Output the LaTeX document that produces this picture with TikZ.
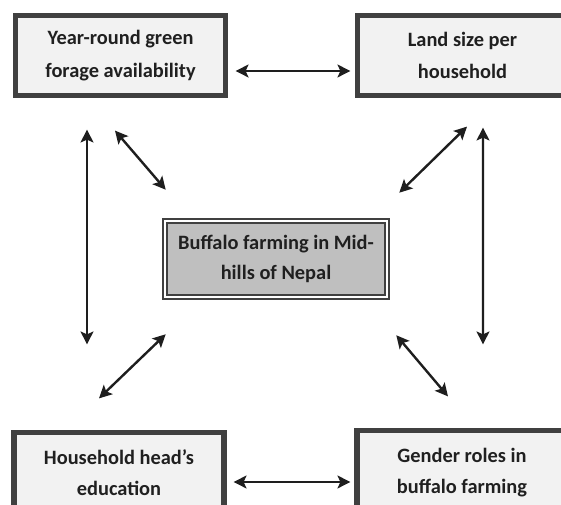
\documentclass[tikz,border=0pt]{standalone}
\usepackage{fontspec}
\setmainfont{Carlito}
\usepackage{tikz}
\usetikzlibrary{arrows.meta, positioning}
\usepackage{xcolor}
\definecolor{frame}{HTML}{404040}
\definecolor{paper}{HTML}{F2F2F2}
\definecolor{core}{HTML}{BFBFBF}
\definecolor{ink}{HTML}{202020}
\definecolor{arrowink}{HTML}{1E1E1E}
\tikzset{
  factor/.style={rectangle, draw=frame, line width=0.13cm, fill=paper,
    minimum width=5.25cm, minimum height=2cm, align=center, text=ink,
    font=\fontsize{14.5}{23}\selectfont\bfseries},
  factorlow/.style={factor, font=\fontsize{14.5}{22}\selectfont\bfseries},
  centre/.style={rectangle, draw=frame, line width=1.1pt, double=white,
    double distance=1.8pt, fill=core, minimum width=5.55cm, minimum height=1.9cm,
    align=center, text=ink, font=\fontsize{14.5}{21}\selectfont\bfseries},
  link/.style={{Stealth[length=3.2mm, width=3.2mm, inset=0.7mm]}-{Stealth[length=3.2mm, width=3.2mm, inset=0.7mm]},
    line width=1.7pt, arrowink},
}

\begin{document}
\begin{tikzpicture}[x=0.025cm, y=0.025cm]
\clip (0,0) rectangle (561,505);
\fill[white] (0,0) rectangle (561,505);
% factor boxes
\node[factor] (forage) at (120.5,449.5) {Year-round green\\forage availability};
\node[factor] (land) at (462.5,449.5) {Land size per\\household};
\node[factorlow] (educ) at (119,32.5) {Household head’s\\education};
\node[factorlow, minimum height=2.1cm] (gender) at (462,32.5) {Gender roles in\\buffalo farming};
\node[centre] (farming) at (276,246) {Buffalo farming in Mid-\\hills of Nepal};
% links
\draw[link] ([shift={(7.5,-15.5)}]forage.east) -- ([shift={(-4.5,-15.5)}]land.west);
\draw[link] ([shift={(7,-9.5)}]educ.east) -- ([shift={(-4,-9.5)}]gender.west);
\draw[link] ([shift={(-33.5,-31.5)}]forage.south) -- ([shift={(-32,85.5)}]educ.north);
\draw[link] ([shift={(20.5,-29.5)}]land.south) -- ([shift={(21,83.5)}]gender.north);
\draw[link] ([shift={(-5.5,-32.5)}]forage.south) -- ([shift={(1.5,30.5)}]farming.north west);
\draw[link] ([shift={(4.5,-28.5)}]land.south) -- ([shift={(11.5,27.5)}]farming.north east);
\draw[link] ([shift={(1.5,-36.5)}]farming.south west) -- ([shift={(-20,31.5)}]educ.north);
\draw[link] ([shift={(8.5,-37.5)}]farming.south east) -- ([shift={(-14,31.5)}]gender.north);
\end{tikzpicture}
\end{document}
